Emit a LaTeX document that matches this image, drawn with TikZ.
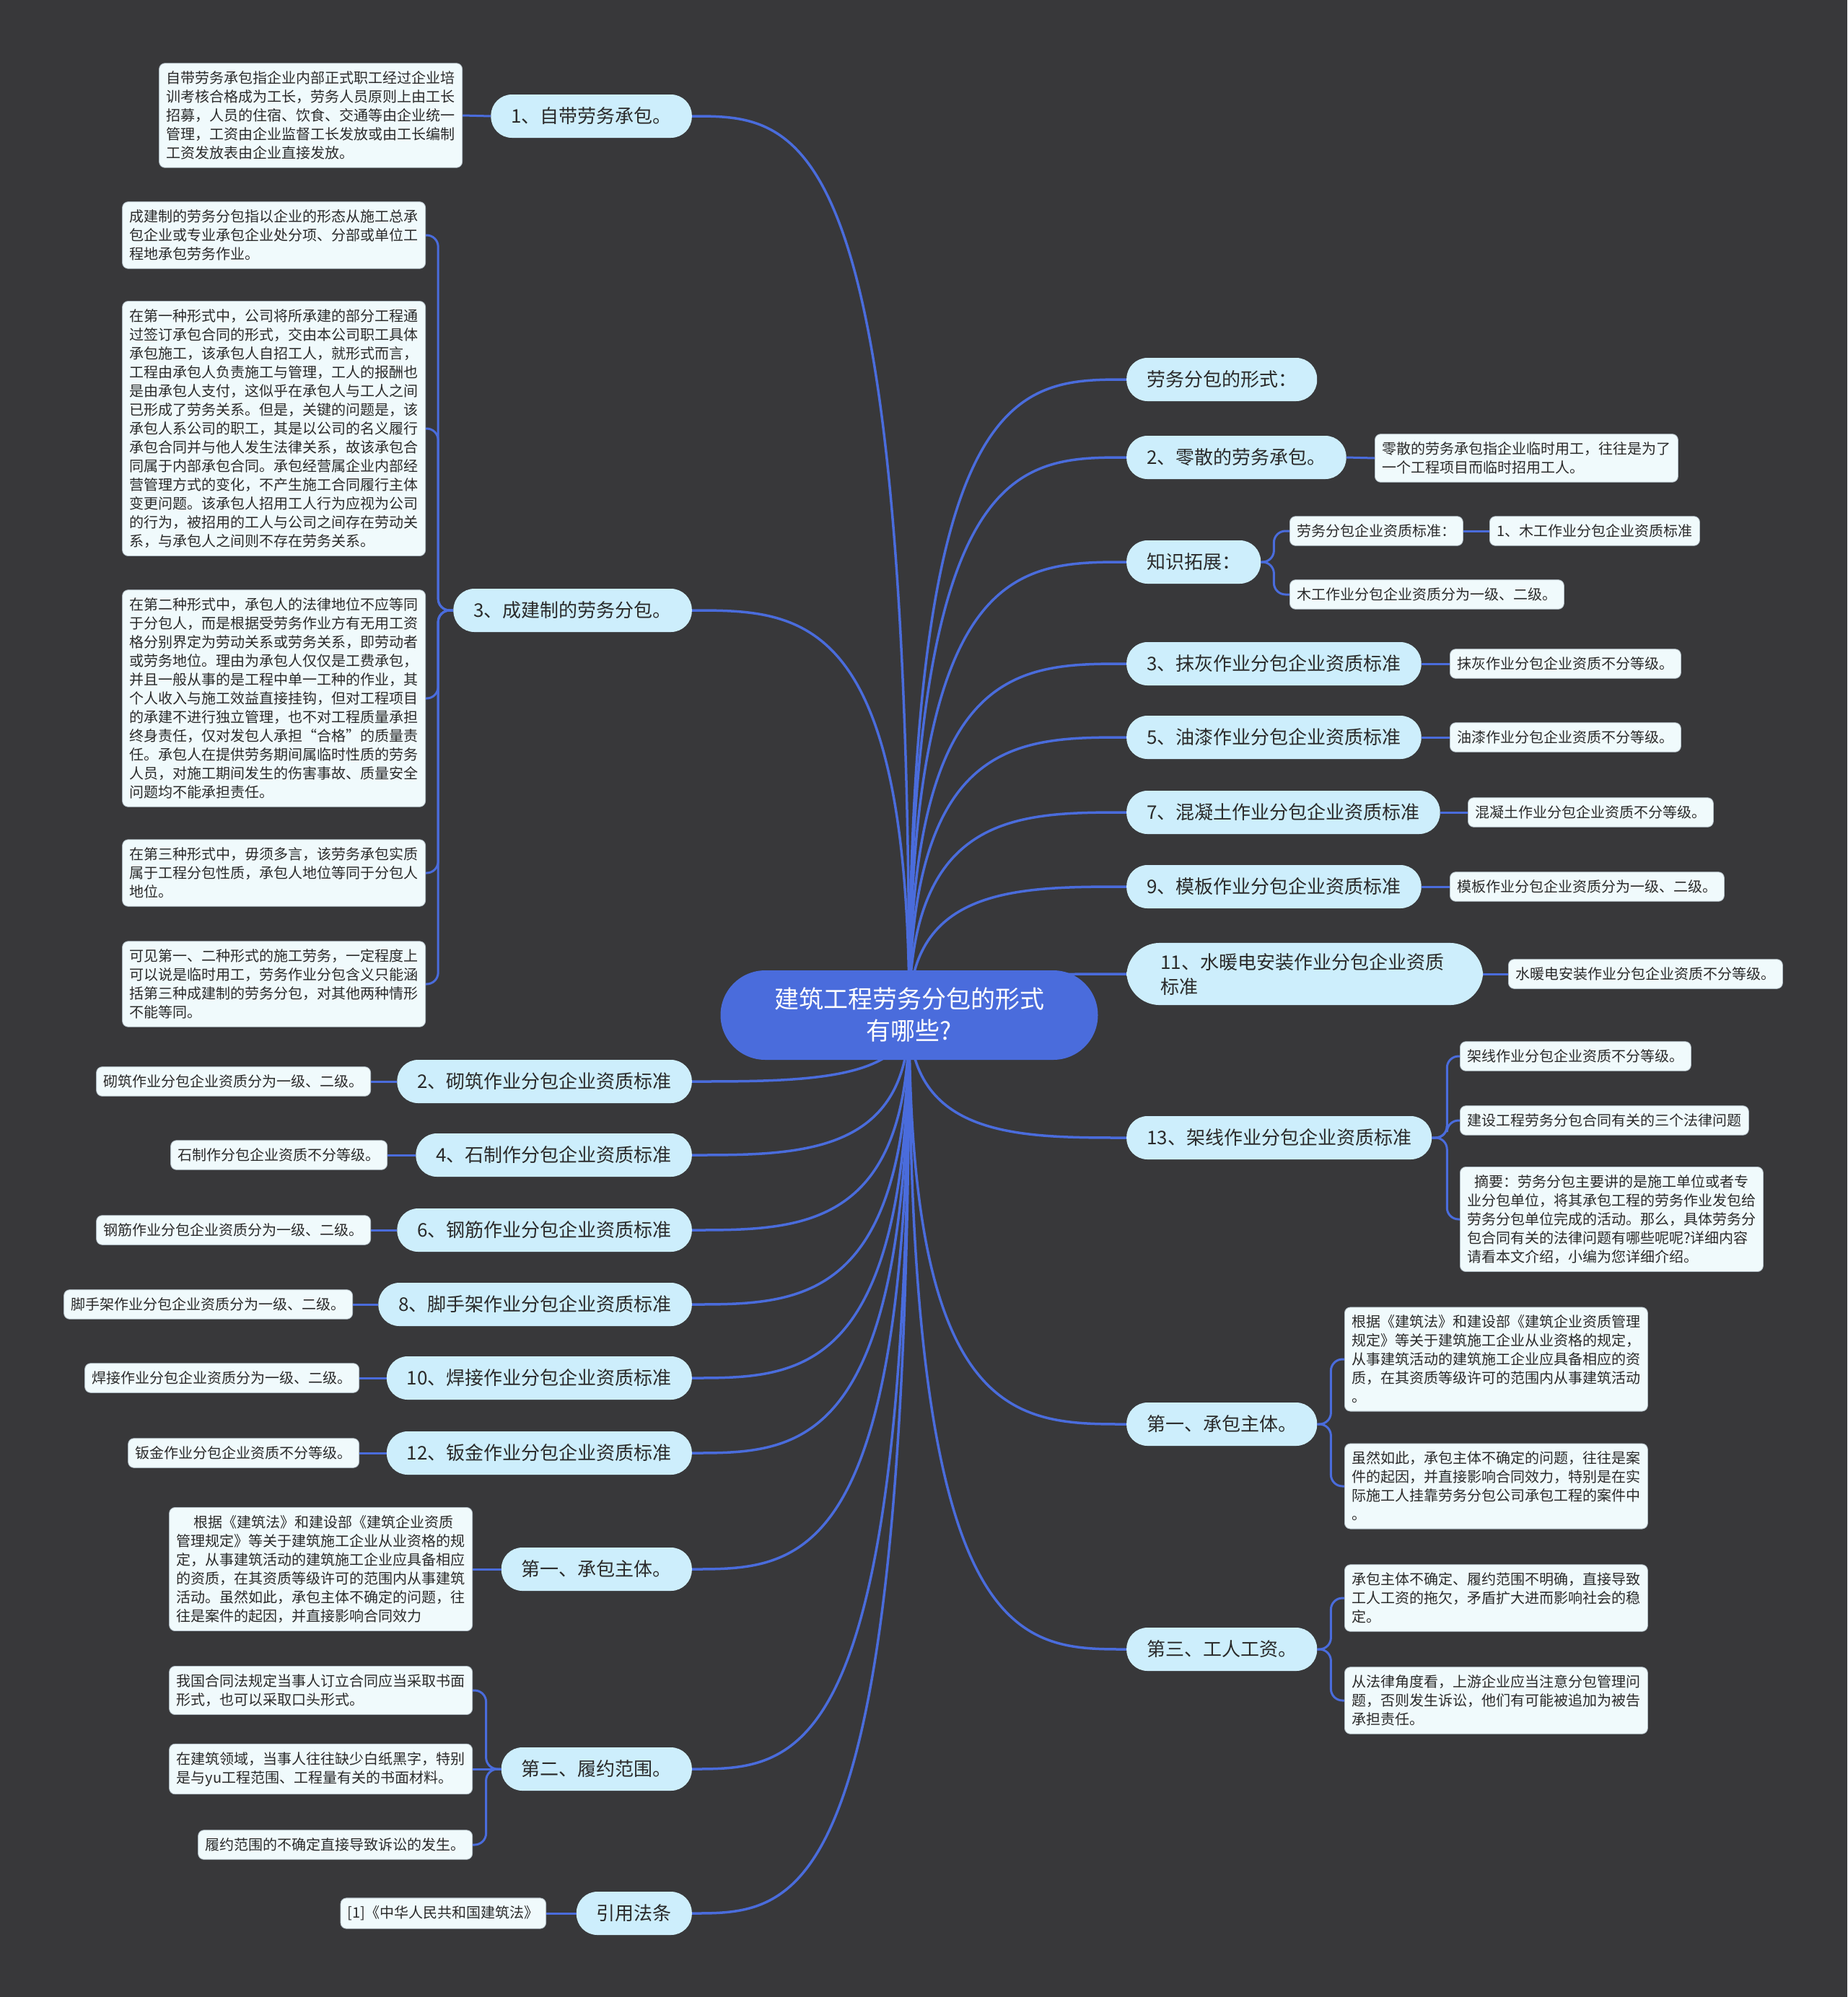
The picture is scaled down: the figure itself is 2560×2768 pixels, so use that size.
\documentclass[tikz,border=0pt]{standalone}
\usepackage{fontspec}
\setmainfont{Noto Sans CJK SC}
\usetikzlibrary{calc}
\pgfdeclarelayer{background}
\pgfsetlayers{background,main}
\definecolor{bgc}{HTML}{38383A}
\definecolor{edgec}{HTML}{4A6CDC}
\definecolor{pillc}{HTML}{CDEEFC}
\definecolor{leafc}{HTML}{F0FAFC}
\definecolor{leafedge}{HTML}{B0BCC4}
\definecolor{txtc}{HTML}{2A2A2A}
\newcommand\mainR[1]{\draw[mainedge] (root.center) .. controls (root.center |- #1.west) and ($(root.center |- #1.west)!0.5!(#1.west)$) .. (#1.west);}
\newcommand\mainL[1]{\draw[mainedge] (root.center) .. controls (root.center |- #1.east) and ($(root.center |- #1.east)!0.5!(#1.east)$) .. (#1.east);}
\begin{document}
\begin{tikzpicture}[x=1pt,y=-1pt,
  rootnode/.style={fill=edgec, text=white, rounded corners=62pt, minimum width=523pt, minimum height=124pt, align=center, font=\fontsize{34}{44}\selectfont, inner sep=0pt},
  pillnode/.style={fill=pillc, text=txtc, rounded corners=29pt, minimum height=60pt, inner xsep=28pt, inner ysep=8pt, align=left, font=\fontsize{26}{34}\selectfont},
  leafnode/.style={fill=leafc, draw=leafedge, line width=0.8pt, text=txtc, rounded corners=8pt, inner xsep=10pt, inner ysep=11pt, align=left, font=\fontsize{20}{26}\selectfont},
  mainedge/.style={draw=edgec, line width=3.5pt},
  subedge/.style={draw=edgec, line width=3pt, rounded corners=16pt},
]
\useasboundingbox (0,0) rectangle (2560,2768);
\begin{pgfonlayer}{background}
\fill[bgc] (0,0) rectangle (2560,2768);
\end{pgfonlayer}

% root
\node[rootnode] (root) at (1260,1407) {建筑工程劳务分包的形式\\有哪些?};

% right level-1
\node[pillnode, anchor=west] (r1) at (1561,526) {劳务分包的形式：};
\node[pillnode, anchor=west] (r2) at (1561,634) {2、零散的劳务承包。};
\node[pillnode, anchor=west] (r3) at (1561,779) {知识拓展：};
\node[pillnode, anchor=west] (r4) at (1561,920) {3、抹灰作业分包企业资质标准};
\node[pillnode, anchor=west] (r5) at (1561,1022) {5、油漆作业分包企业资质标准};
\node[pillnode, anchor=west] (r6) at (1561,1126) {7、混凝土作业分包企业资质标准};
\node[pillnode, anchor=west] (r7) at (1561,1229) {9、模板作业分包企业资质标准};
\node[pillnode, anchor=west, rounded corners=46pt, text width=400pt, inner xsep=47pt, inner ysep=14pt] (r8) at (1561,1350) {11、水暖电安装作业分包企业资质\\标准};
\node[pillnode, anchor=west] (r9) at (1561,1577) {13、架线作业分包企业资质标准};
\node[pillnode, anchor=west] (r10) at (1561,1974) {第一、承包主体。};
\node[pillnode, anchor=west] (r11) at (1561,2286) {第三、工人工资。};

% left level-1
\node[pillnode, anchor=east] (l1) at (959,161) {1、自带劳务承包。};
\node[pillnode, anchor=east] (l2) at (959,846) {3、成建制的劳务分包。};
\node[pillnode, anchor=east] (l3) at (959,1499) {2、砌筑作业分包企业资质标准};
\node[pillnode, anchor=east] (l4) at (959,1601) {4、石制作分包企业资质标准};
\node[pillnode, anchor=east] (l5) at (959,1705) {6、钢筋作业分包企业资质标准};
\node[pillnode, anchor=east] (l6) at (959,1808) {8、脚手架作业分包企业资质标准};
\node[pillnode, anchor=east] (l7) at (959,1910) {10、焊接作业分包企业资质标准};
\node[pillnode, anchor=east] (l8) at (959,2014) {12、钣金作业分包企业资质标准};
\node[pillnode, anchor=east] (l9) at (959,2175) {第一、承包主体。};
\node[pillnode, anchor=east] (l10) at (959,2452) {第二、履约范围。};
\node[pillnode, anchor=east] (l11) at (959,2652) {引用法条};

% right leaves
\node[leafnode, anchor=west] (a2) at (1905,635) {零散的劳务承包指企业临时用工，往往是为了\\一个工程项目而临时招用工人。};
\node[leafnode, anchor=west] (a3a) at (1787,736) {劳务分包企业资质标准：};
\node[leafnode, anchor=west] (a3b) at (2064,736) {1、木工作业分包企业资质标准};
\node[leafnode, anchor=west] (a3c) at (1787,824) {木工作业分包企业资质分为一级、二级。};
\node[leafnode, anchor=west] (a4) at (2009,920) {抹灰作业分包企业资质不分等级。};
\node[leafnode, anchor=west] (a5) at (2009,1022) {油漆作业分包企业资质不分等级。};
\node[leafnode, anchor=west] (a6) at (2034,1126) {混凝土作业分包企业资质不分等级。};
\node[leafnode, anchor=west] (a7) at (2009,1229) {模板作业分包企业资质分为一级、二级。};
\node[leafnode, anchor=west] (a8) at (2090,1350) {水暖电安装作业分包企业资质不分等级。};
\node[leafnode, anchor=west] (a9a) at (2023,1464) {架线作业分包企业资质不分等级。};
\node[leafnode, anchor=west] (a9b) at (2023,1553) {建设工程劳务分包合同有关的三个法律问题};
\node[leafnode, anchor=west] (a9c) at (2023,1690) {\hspace*{10pt}摘要：劳务分包主要讲的是施工单位或者专\\业分包单位，将其承包工程的劳务作业发包给\\劳务分包单位完成的活动。那么，具体劳务分\\包合同有关的法律问题有哪些呢呢?详细内容\\请看本文介绍，小编为您详细介绍。};
\node[leafnode, anchor=west] (a10a) at (1863,1884) {根据《建筑法》和建设部《建筑企业资质管理\\规定》等关于建筑施工企业从业资格的规定，\\从事建筑活动的建筑施工企业应具备相应的资\\质，在其资质等级许可的范围内从事建筑活动\\。};
\node[leafnode, anchor=west] (a10b) at (1863,2060) {虽然如此，承包主体不确定的问题，往往是案\\件的起因，并直接影响合同效力，特别是在实\\际施工人挂靠劳务分包公司承包工程的案件中\\。};
\node[leafnode, anchor=west] (a11a) at (1863,2215) {承包主体不确定、履约范围不明确，直接导致\\工人工资的拖欠，矛盾扩大进而影响社会的稳\\定。};
\node[leafnode, anchor=west] (a11b) at (1863,2357) {从法律角度看，上游企业应当注意分包管理问\\题，否则发生诉讼，他们有可能被追加为被告\\承担责任。};

% left leaves
\node[leafnode, anchor=east] (b1) at (641,160) {自带劳务承包指企业内部正式职工经过企业培\\训考核合格成为工长，劳务人员原则上由工长\\招募，人员的住宿、饮食、交通等由企业统一\\管理，工资由企业监督工长发放或由工长编制\\工资发放表由企业直接发放。};
\node[leafnode, anchor=east] (b2a) at (590,326) {成建制的劳务分包指以企业的形态从施工总承\\包企业或专业承包企业处分项、分部或单位工\\程地承包劳务作业。};
\node[leafnode, anchor=east] (b2b) at (590,594) {在第一种形式中，公司将所承建的部分工程通\\过签订承包合同的形式，交由本公司职工具体\\承包施工，该承包人自招工人，就形式而言，\\工程由承包人负责施工与管理，工人的报酬也\\是由承包人支付，这似乎在承包人与工人之间\\已形成了劳务关系。但是，关键的问题是，该\\承包人系公司的职工，其是以公司的名义履行\\承包合同并与他人发生法律关系，故该承包合\\同属于内部承包合同。承包经营属企业内部经\\营管理方式的变化，不产生施工合同履行主体\\变更问题。该承包人招用工人行为应视为公司\\的行为，被招用的工人与公司之间存在劳动关\\系，与承包人之间则不存在劳务关系。};
\node[leafnode, anchor=east] (b2c) at (590,968) {在第二种形式中，承包人的法律地位不应等同\\于分包人，而是根据受劳务作业方有无用工资\\格分别界定为劳动关系或劳务关系，即劳动者\\或劳务地位。理由为承包人仅仅是工费承包，\\并且一般从事的是工程中单一工种的作业，其\\个人收入与施工效益直接挂钩，但对工程项目\\的承建不进行独立管理，也不对工程质量承担\\终身责任，仅对发包人承担“合格”的质量责\\任。承包人在提供劳务期间属临时性质的劳务\\人员，对施工期间发生的伤害事故、质量安全\\问题均不能承担责任。};
\node[leafnode, anchor=east] (b2d) at (590,1210) {在第三种形式中，毋须多言，该劳务承包实质\\属于工程分包性质，承包人地位等同于分包人\\地位。};
\node[leafnode, anchor=east] (b2e) at (590,1364) {可见第一、二种形式的施工劳务，一定程度上\\可以说是临时用工，劳务作业分包含义只能涵\\括第三种成建制的劳务分包，对其他两种情形\\不能等同。};
\node[leafnode, anchor=east] (b3) at (514,1499) {砌筑作业分包企业资质分为一级、二级。};
\node[leafnode, anchor=east] (b4) at (537,1601) {石制作分包企业资质不分等级。};
\node[leafnode, anchor=east] (b5) at (514,1705) {钢筋作业分包企业资质分为一级、二级。};
\node[leafnode, anchor=east] (b6) at (489,1808) {脚手架作业分包企业资质分为一级、二级。};
\node[leafnode, anchor=east] (b7) at (498,1910) {焊接作业分包企业资质分为一级、二级。};
\node[leafnode, anchor=east] (b8) at (498,2014) {钣金作业分包企业资质不分等级。};
\node[leafnode, anchor=east] (b9) at (655,2175) {\hspace*{24pt}根据《建筑法》和建设部《建筑企业资质\\管理规定》等关于建筑施工企业从业资格的规\\定，从事建筑活动的建筑施工企业应具备相应\\的资质，在其资质等级许可的范围内从事建筑\\活动。虽然如此，承包主体不确定的问题，往\\往是案件的起因，并直接影响合同效力};
\node[leafnode, anchor=east] (b10a) at (655,2343) {我国合同法规定当事人订立合同应当采取书面\\形式，也可以采取口头形式。};
\node[leafnode, anchor=east] (b10b) at (655,2452) {在建筑领域，当事人往往缺少白纸黑字，特别\\是与yu工程范围、工程量有关的书面材料。};
\node[leafnode, anchor=east] (b10c) at (655,2557) {履约范围的不确定直接导致诉讼的发生。};
\node[leafnode, anchor=east] (b11) at (757,2652) {[1]《中华人民共和国建筑法》};

\begin{pgfonlayer}{background}
% main edges
\foreach \n in {r1,r2,r3,r4,r5,r6,r7,r8,r9,r10,r11} {\mainR{\n}}
\foreach \n in {l1,l2,l3,l4,l5,l6,l7,l8,l9,l10,l11} {\mainL{\n}}
% right sub edges
\draw[subedge] (r2.east) -- (a2.west);
\draw[subedge] (r3.east) -- ++(18,0) |- (a3a.west);
\draw[subedge] (r3.east) -- ++(18,0) |- (a3c.west);
\draw[subedge] (a3a.east) -- (a3b.west);
\draw[subedge] (r4.east) -- (a4.west);
\draw[subedge] (r5.east) -- (a5.west);
\draw[subedge] (r6.east) -- (a6.west);
\draw[subedge] (r7.east) -- (a7.west);
\draw[subedge] (r8.east) -- (a8.west);
\draw[subedge] (r9.east) -- ++(21,0) |- (a9a.west);
\draw[subedge] (r9.east) -- ++(21,0) |- (a9b.west);
\draw[subedge] (r9.east) -- ++(21,0) |- (a9c.west);
\draw[subedge] (r10.east) -- ++(19,0) |- (a10a.west);
\draw[subedge] (r10.east) -- ++(19,0) |- (a10b.west);
\draw[subedge] (r11.east) -- ++(19,0) |- (a11a.west);
\draw[subedge] (r11.east) -- ++(19,0) |- (a11b.west);
% left sub edges
\draw[subedge] (l1.west) -- (b1.east);
\foreach \n in {b2a,b2b,b2c,b2d,b2e} {\draw[subedge] (l2.west) -- ++(-21,0) |- (\n.east);}
\draw[subedge] (l3.west) -- (b3.east);
\draw[subedge] (l4.west) -- (b4.east);
\draw[subedge] (l5.west) -- (b5.east);
\draw[subedge] (l6.west) -- (b6.east);
\draw[subedge] (l7.west) -- (b7.east);
\draw[subedge] (l8.west) -- (b8.east);
\draw[subedge] (l9.west) -- (b9.east);
\draw[subedge] (l10.west) -- ++(-21,0) |- (b10a.east);
\draw[subedge] (l10.west) -- (b10b.east);
\draw[subedge] (l10.west) -- ++(-21,0) |- (b10c.east);
\draw[subedge] (l11.west) -- (b11.east);
\end{pgfonlayer}
\end{tikzpicture}
\end{document}
